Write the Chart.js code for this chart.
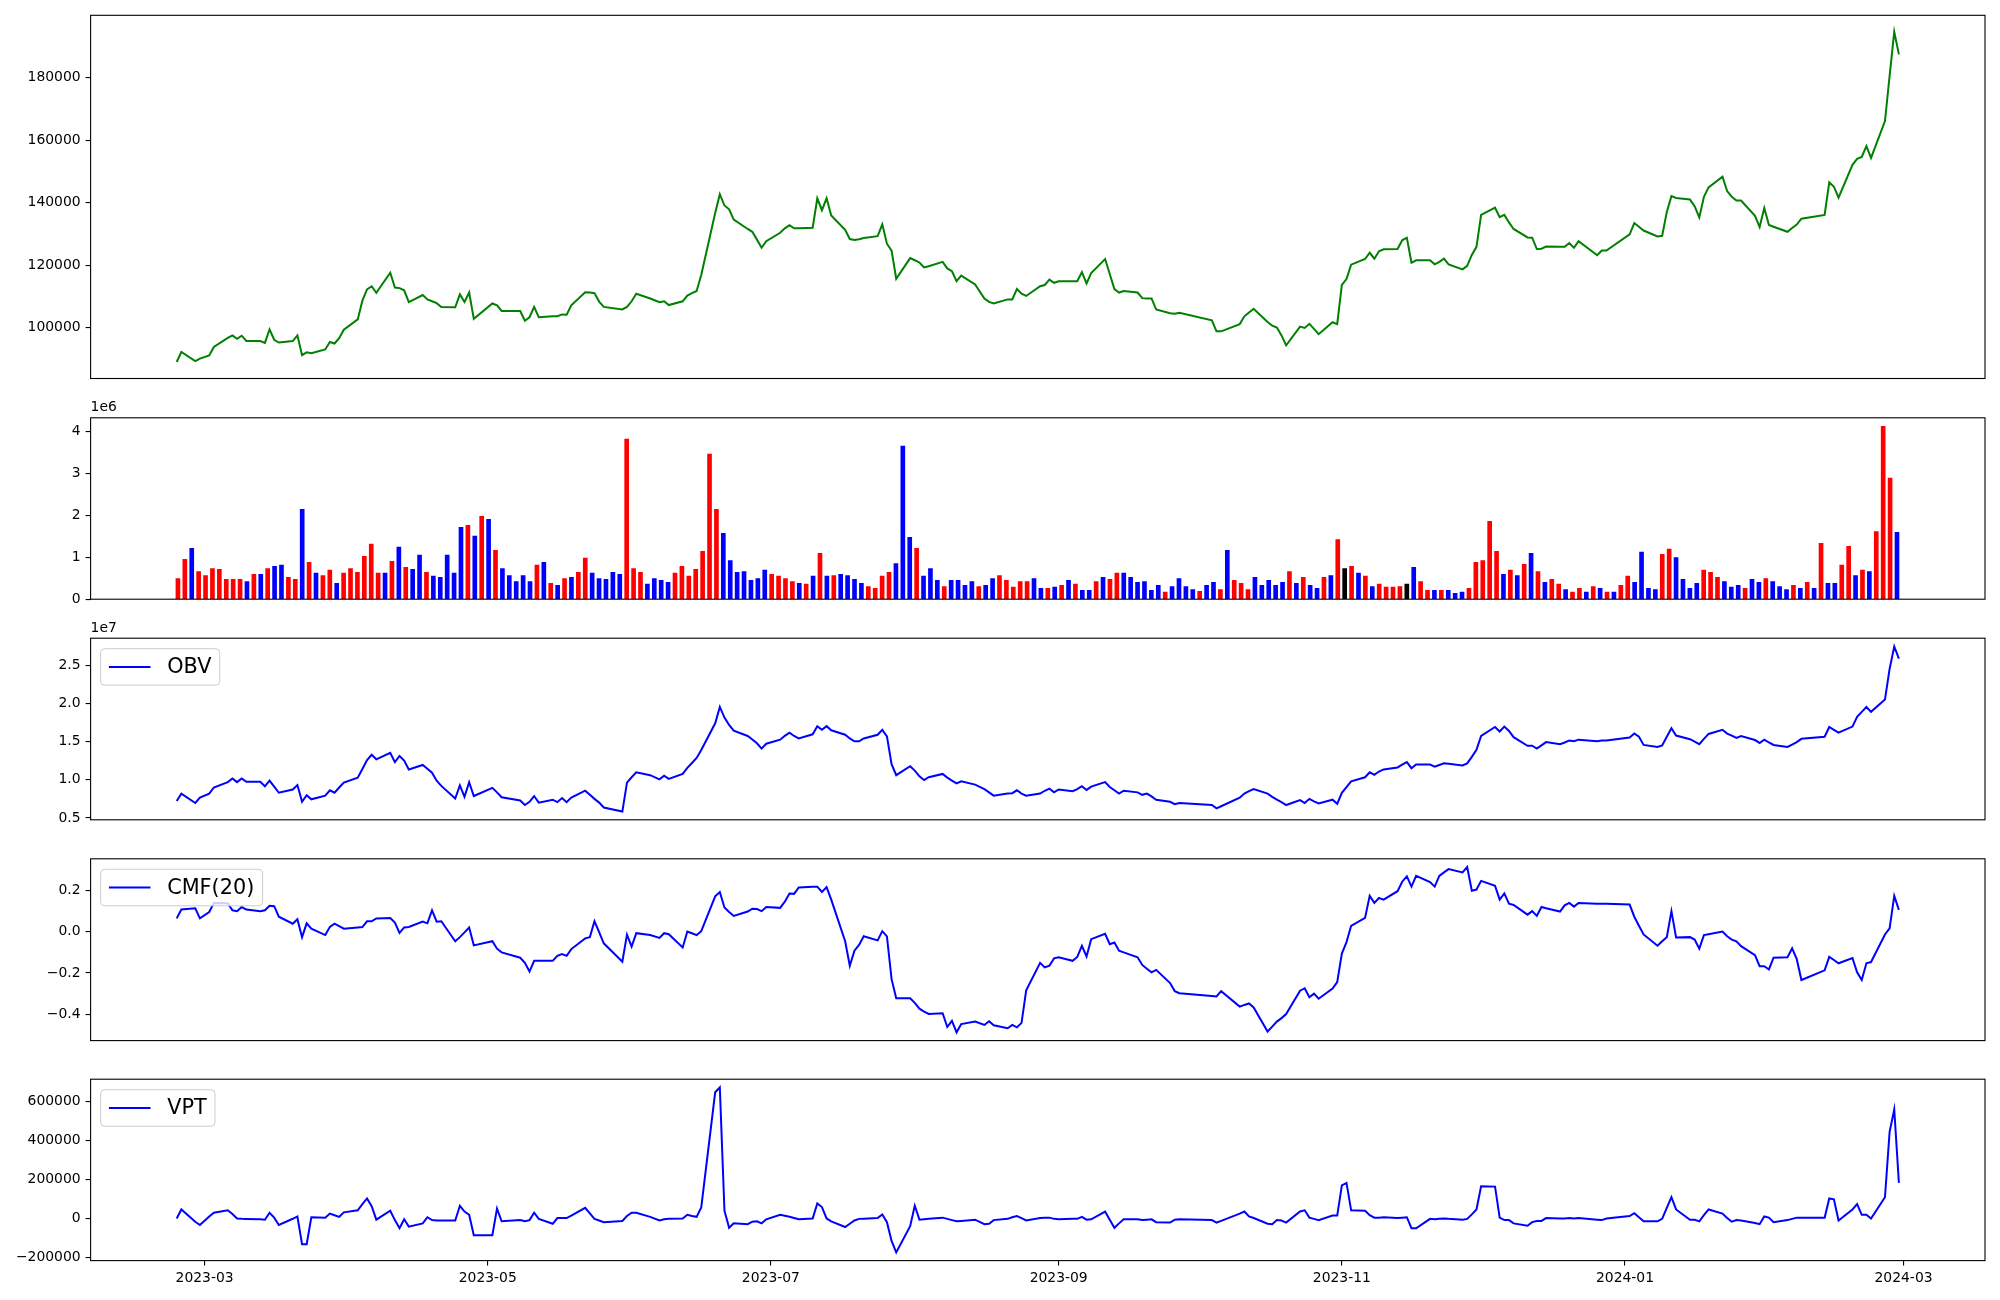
<!DOCTYPE html>
<html lang="en">
<head>
<meta charset="UTF-8">
<title>Price / Volume / OBV / CMF / VPT</title>
<script src="https://cdn.jsdelivr.net/npm/chart.js"></script>
<style>
  html, body { margin: 0; padding: 0; background: #fff; }
  #wrap { position: relative; width: 2000px; height: 1300px; overflow: hidden; }
  #wrap canvas { position: absolute; left: 0; }
</style>
</head>
<body>
<div id="wrap"></div>
<script>
// ---- calendar: KRX trading days, 2023-02-23 .. 2024-02-29 ----
const firstDay = '2023-02-23';
const lastDay = '2024-02-29';
const holidays = ['2023-03-01', '2023-05-01', '2023-05-05', '2023-05-29', '2023-06-06',
  '2023-08-15', '2023-09-28', '2023-09-29', '2023-10-02', '2023-10-03', '2023-10-09',
  '2023-12-25', '2023-12-29', '2024-01-01', '2024-02-09', '2024-02-12'];

const xTickLabels = ['2023-03', '2023-05', '2023-07', '2023-09', '2023-11', '2024-01', '2024-03'];

// one row per trading week
const price = [
  89100, 92300, 89400, 90200, 91200, 93900,
  96800, 97600, 96500, 97500, 95800,
  95800, 95200, 99500, 96200, 95300,
  95800, 97600, 91300, 92200, 91900,
  93100, 95500, 95000, 96700, 99400,
  102700, 108700, 112300, 113300, 111200,
  117600, 112900, 112700, 112000, 108200,
  110500, 109100, 108500, 107900, 106700,
  106600, 110700, 108300, 111300, 102900,
  107800, 107200, 105400,
  105400, 102300, 103400, 106700, 103400,
  103700, 103700, 104300, 104200, 107200,
  111400, 111300, 111100, 108400, 106700,
  105900, 106700, 108500, 110900,
  109400, 108200, 108500, 107300,
  108500, 110300, 111100, 111800, 116900,
  136700, 142700, 139100, 137900, 134600,
  131600, 130700, 128200, 125600, 127700,
  130400, 131800, 132800, 131800, 131800,
  132000, 141400, 137600, 141400, 135900,
  131300, 128400, 128100, 128300, 128700,
  129300, 133100, 126900, 124700, 115700,
  122300, 121600, 120900, 119300, 119700,
  121100, 119000, 118100, 114900, 116700,
  113900, 109400, 108300, 107800,
  109100, 109100, 112400, 110900, 110200,
  113300, 113700, 115400, 114400, 114900,
  114900, 114900, 117800, 114200, 117500,
  122000, 117200, 112400, 111300, 111800,
  111300, 109500, 109400, 109400, 105900,
  104700, 104500, 104800,
  102400, 98900, 98900,
  101200, 103700, 104900, 106100,
  101900, 100700, 100100, 97600, 94400,
  100400, 100000, 101300, 99700, 98000,
  101800, 101200, 113700, 115600, 120200,
  122000, 124000, 122100, 124500, 125100,
  125200, 128000, 128800, 120800, 121600,
  121600, 120300, 121100, 122100, 120300,
  118700, 119800, 123300, 125900, 136100,
  138400, 135400, 136100, 133700, 131600,
  128900, 128800, 125200, 125300, 126000,
  125900, 125900, 127100, 125600, 127700,
  123200, 124700, 124700,
  129900, 133500, 132300, 131100,
  129200, 129400, 137000, 142100, 141500,
  141000, 138900, 135300, 141900, 144900,
  148300, 143700, 141900, 140700, 140700,
  135800, 132200, 138300, 132900, 132300,
  130700, 131900, 133000, 134900,
  136100, 146500, 145100, 141600,
  152100, 154000, 154600, 158100, 154300,
  166100, 180500, 194600, 187400
];

const volume = [
  0.49e6, 0.95e6, 1.21e6, 0.66e6, 0.56e6, 0.73e6,
  0.71e6, 0.47e6, 0.47e6, 0.47e6, 0.42e6,
  0.59e6, 0.59e6, 0.73e6, 0.78e6, 0.81e6,
  0.52e6, 0.47e6, 2.14e6, 0.88e6, 0.62e6,
  0.56e6, 0.69e6, 0.38e6, 0.62e6, 0.73e6,
  0.64e6, 1.02e6, 1.31e6, 0.62e6, 0.62e6,
  0.90e6, 1.24e6, 0.76e6, 0.71e6, 1.05e6,
  0.64e6, 0.55e6, 0.52e6, 1.05e6, 0.62e6,
  1.71e6, 1.76e6, 1.50e6, 1.97e6, 1.90e6,
  1.16e6, 0.73e6, 0.56e6,
  0.42e6, 0.56e6, 0.42e6, 0.81e6, 0.88e6,
  0.38e6, 0.33e6, 0.49e6, 0.52e6, 0.64e6,
  0.98e6, 0.62e6, 0.49e6, 0.47e6, 0.64e6,
  0.59e6, 3.81e6, 0.73e6, 0.64e6,
  0.36e6, 0.49e6, 0.45e6, 0.40e6,
  0.62e6, 0.78e6, 0.55e6, 0.71e6, 1.14e6,
  3.45e6, 2.14e6, 1.57e6, 0.92e6, 0.64e6,
  0.66e6, 0.45e6, 0.49e6, 0.69e6, 0.59e6,
  0.55e6, 0.49e6, 0.42e6, 0.38e6, 0.36e6,
  0.55e6, 1.09e6, 0.55e6, 0.56e6, 0.59e6,
  0.56e6, 0.47e6, 0.38e6, 0.30e6, 0.26e6,
  0.55e6, 0.64e6, 0.85e6, 3.64e6, 1.47e6,
  1.21e6, 0.55e6, 0.73e6, 0.45e6, 0.30e6,
  0.45e6, 0.45e6, 0.33e6, 0.42e6, 0.30e6,
  0.33e6, 0.49e6, 0.56e6, 0.45e6,
  0.29e6, 0.42e6, 0.42e6, 0.49e6, 0.26e6,
  0.26e6, 0.29e6, 0.33e6, 0.45e6, 0.36e6,
  0.21e6, 0.21e6, 0.42e6, 0.52e6, 0.47e6,
  0.62e6, 0.62e6, 0.52e6, 0.40e6, 0.42e6,
  0.21e6, 0.33e6, 0.17e6, 0.30e6, 0.49e6,
  0.30e6, 0.23e6, 0.19e6,
  0.33e6, 0.40e6, 0.23e6,
  1.16e6, 0.45e6, 0.38e6, 0.23e6,
  0.52e6, 0.33e6, 0.45e6, 0.33e6, 0.40e6,
  0.66e6, 0.38e6, 0.52e6, 0.33e6, 0.26e6,
  0.52e6, 0.56e6, 1.42e6, 0.73e6, 0.78e6,
  0.62e6, 0.55e6, 0.30e6, 0.36e6, 0.29e6,
  0.29e6, 0.30e6, 0.36e6, 0.76e6, 0.42e6,
  0.21e6, 0.21e6, 0.21e6, 0.21e6, 0.14e6,
  0.17e6, 0.26e6, 0.88e6, 0.92e6, 1.85e6,
  1.14e6, 0.59e6, 0.69e6, 0.56e6, 0.83e6,
  1.09e6, 0.66e6, 0.40e6, 0.47e6, 0.36e6,
  0.23e6, 0.17e6, 0.26e6, 0.17e6, 0.30e6,
  0.26e6, 0.17e6, 0.17e6,
  0.33e6, 0.55e6, 0.40e6, 1.12e6,
  0.26e6, 0.23e6, 1.07e6, 1.19e6, 0.99e6,
  0.47e6, 0.26e6, 0.38e6, 0.69e6, 0.64e6,
  0.52e6, 0.42e6, 0.29e6, 0.33e6, 0.26e6,
  0.47e6, 0.40e6, 0.49e6, 0.42e6, 0.30e6,
  0.23e6, 0.33e6, 0.26e6, 0.40e6,
  0.26e6, 1.33e6, 0.38e6, 0.38e6,
  0.81e6, 1.26e6, 0.56e6, 0.69e6, 0.66e6,
  1.61e6, 4.11e6, 2.88e6, 1.59e6
];

// 1 = up (red), -1 = down (blue), 0 = unchanged (black)
const volDir = [
  1, 1, -1, 1, 1, 1,
  1, 1, 1, 1, -1,
  1, -1, 1, -1, -1,
  1, 1, -1, 1, -1,
  1, 1, -1, 1, 1,
  1, 1, 1, 1, -1,
  1, -1, 1, -1, -1,
  1, -1, -1, -1, -1,
  -1, 1, -1, 1, -1,
  1, -1, -1,
  -1, -1, -1, 1, -1,
  1, -1, 1, -1, 1,
  1, -1, -1, -1, -1,
  -1, 1, 1, 1,
  -1, -1, -1, -1,
  1, 1, 1, 1, 1,
  1, 1, -1, -1, -1,
  -1, -1, -1, -1, 1,
  1, 1, 1, -1, 1,
  -1, 1, -1, 1, -1,
  -1, -1, -1, 1, 1,
  1, 1, -1, -1, -1,
  1, -1, -1, -1, 1,
  -1, -1, -1, -1, 1,
  -1, -1, 1, 1,
  1, 1, 1, -1, -1,
  1, -1, 1, -1, 1,
  -1, -1, 1, -1, 1,
  1, -1, -1, -1, -1,
  -1, -1, 1, -1, -1,
  -1, -1, 1,
  -1, -1, 1,
  -1, 1, 1, 1,
  -1, -1, -1, -1, -1,
  1, -1, 1, -1, -1,
  1, -1, 1, 0, 1,
  -1, 1, -1, 1, 1,
  1, 1, 0, -1, 1,
  1, -1, 1, -1, -1,
  -1, 1, 1, 1, 1,
  1, -1, 1, -1, 1,
  -1, 1, -1, 1, 1,
  -1, 1, 1, -1, 1,
  -1, 1, -1,
  1, 1, -1, -1,
  -1, -1, 1, 1, -1,
  -1, -1, -1, 1, 1,
  1, -1, -1, -1, 1,
  -1, -1, 1, -1, -1,
  -1, 1, -1, 1,
  -1, 1, -1, -1,
  1, 1, -1, 1, -1,
  1, 1, 1, -1
];

const obv = [
  7.23e6, 8.19e6, 6.96e6, 7.66e6, 8.19e6, 8.99e6,
  9.69e6, 10.17e6, 9.69e6, 10.17e6, 9.74e6,
  9.74e6, 9.15e6, 9.90e6, 9.10e6, 8.30e6,
  8.73e6, 9.31e6, 7.12e6, 7.98e6, 7.44e6,
  7.92e6, 8.62e6, 8.30e6, 8.99e6, 9.63e6,
  10.28e6, 11.40e6, 12.58e6, 13.27e6, 12.68e6,
  13.54e6, 12.31e6, 13.11e6, 12.52e6, 11.35e6,
  11.94e6, 11.44e6, 10.92e6, 9.87e6, 9.20e6,
  7.55e6, 9.26e6, 7.76e6, 9.69e6, 7.87e6,
  8.94e6, 8.35e6, 7.71e6,
  7.28e6, 6.69e6, 7.12e6, 7.87e6, 7.01e6,
  7.39e6, 7.07e6, 7.61e6, 7.07e6, 7.66e6,
  8.57e6, 8.03e6, 7.50e6, 7.01e6, 6.37e6,
  5.84e6, 9.63e6, 10.33e6, 10.97e6,
  10.60e6, 10.06e6, 10.54e6, 10.12e6,
  10.76e6, 11.56e6, 12.20e6, 12.85e6, 13.90e6,
  17.39e6, 19.53e6, 18.14e6, 17.18e6, 16.43e6,
  15.73e6, 15.28e6, 14.77e6, 14.08e6, 14.72e6,
  15.25e6, 15.75e6, 16.16e6, 15.73e6, 15.41e6,
  15.95e6, 17.02e6, 16.54e6, 17.02e6, 16.48e6,
  15.89e6, 15.41e6, 15.04e6, 15.04e6, 15.41e6,
  15.89e6, 16.54e6, 15.68e6, 12.04e6, 10.60e6,
  11.77e6, 11.20e6, 10.44e6, 9.96e6, 10.33e6,
  10.76e6, 10.28e6, 9.90e6, 9.53e6, 9.80e6,
  9.37e6, 8.78e6, 8.35e6, 7.92e6,
  8.19e6, 8.24e6, 8.62e6, 8.19e6, 7.92e6,
  8.19e6, 8.56e6, 8.83e6, 8.35e6, 8.73e6,
  8.51e6, 8.78e6, 9.15e6, 8.67e6, 9.10e6,
  9.69e6, 9.05e6, 8.62e6, 8.19e6, 8.56e6,
  8.35e6, 8.03e6, 8.19e6, 7.82e6, 7.39e6,
  7.12e6, 6.80e6, 6.96e6,
  6.69e6, 6.26e6, 6.53e6,
  7.66e6, 8.19e6, 8.51e6, 8.78e6,
  8.19e6, 7.76e6, 7.39e6, 7.07e6, 6.69e6,
  7.34e6, 6.96e6, 7.50e6, 7.17e6, 6.91e6,
  7.39e6, 6.85e6, 8.30e6, 9.05e6, 9.80e6,
  10.33e6, 10.97e6, 10.65e6, 11.08e6, 11.35e6,
  11.61e6, 11.99e6, 12.31e6, 11.51e6, 11.99e6,
  11.99e6, 11.72e6, 11.93e6, 12.15e6, 12.10e6,
  11.88e6, 12.15e6, 13.00e6, 13.91e6, 15.73e6,
  16.91e6, 16.32e6, 16.96e6, 16.38e6, 15.57e6,
  14.45e6, 14.45e6, 14.08e6, 14.50e6, 14.93e6,
  14.66e6, 14.88e6, 15.15e6, 15.04e6, 15.25e6,
  15.04e6, 15.15e6, 15.15e6,
  15.52e6, 16.05e6, 15.63e6, 14.56e6,
  14.29e6, 14.50e6, 15.63e6, 16.75e6, 15.79e6,
  15.31e6, 14.98e6, 14.66e6, 15.36e6, 16.00e6,
  16.54e6, 16.05e6, 15.79e6, 15.47e6, 15.73e6,
  15.20e6, 14.82e6, 15.25e6, 14.88e6, 14.56e6,
  14.29e6, 14.61e6, 14.93e6, 15.36e6,
  15.63e6, 16.91e6, 16.54e6, 16.16e6,
  16.96e6, 18.25e6, 18.89e6, 19.53e6, 18.89e6,
  20.50e6, 24.51e6, 27.45e6, 25.85e6
];

const cmf = [
  0.065, 0.108, 0.114, 0.065, 0.096, 0.140,
  0.138, 0.104, 0.100, 0.120, 0.108,
  0.100, 0.104, 0.126, 0.124, 0.073,
  0.039, 0.061, -0.026, 0.041, 0.015,
  -0.016, 0.024, 0.039, 0.027, 0.015,
  0.021, 0.023, 0.051, 0.051, 0.065,
  0.067, 0.045, -0.005, 0.021, 0.023,
  0.049, 0.041, 0.104, 0.049, 0.051,
  -0.046, -0.026, -0.003, 0.021, -0.066,
  -0.046, -0.082, -0.100,
  -0.126, -0.151, -0.193, -0.141, -0.141,
  -0.141, -0.117, -0.108, -0.117, -0.084,
  -0.032, -0.026, 0.051, -0.002, -0.056,
  -0.145, -0.014, -0.072, -0.007,
  -0.016, -0.030, -0.007, -0.012,
  -0.076, 0.001, -0.007, -0.016, 0.003,
  0.172, 0.193, 0.118, 0.096, 0.077,
  0.098, 0.112, 0.110, 0.100, 0.120,
  0.116, 0.146, 0.186, 0.184, 0.215,
  0.219, 0.219, 0.193, 0.217, 0.156,
  -0.046, -0.165, -0.092, -0.064, -0.022,
  -0.042, 0.003, -0.022, -0.230, -0.323,
  -0.323, -0.345, -0.373, -0.387, -0.399,
  -0.395, -0.462, -0.432, -0.488, -0.448,
  -0.436, -0.452, -0.434, -0.454,
  -0.468, -0.452, -0.464, -0.442, -0.284,
  -0.151, -0.173, -0.165, -0.129, -0.124,
  -0.141, -0.122, -0.068, -0.120, -0.036,
  -0.010, -0.060, -0.052, -0.092, -0.100,
  -0.124, -0.161, -0.179, -0.197, -0.185,
  -0.249, -0.288, -0.298,
  -0.312, -0.314, -0.288,
  -0.363, -0.355, -0.348, -0.367,
  -0.484, -0.460, -0.436, -0.419, -0.399,
  -0.286, -0.274, -0.318, -0.300, -0.325,
  -0.276, -0.244, -0.106, -0.050, 0.029,
  0.067, 0.174, 0.140, 0.164, 0.156,
  0.197, 0.243, 0.269, 0.219, 0.271,
  0.241, 0.219, 0.271, 0.288, 0.304,
  0.288, 0.314, 0.199, 0.205, 0.247,
  0.223, 0.156, 0.186, 0.136, 0.130,
  0.083, 0.100, 0.077, 0.120, 0.114,
  0.098, 0.128, 0.140, 0.122, 0.140,
  0.136, 0.136, 0.136,
  0.132, 0.073, 0.029, -0.013,
  -0.068, -0.046, -0.026, 0.100, -0.028,
  -0.026, -0.038, -0.082, -0.016, -0.012,
  0.001, -0.022, -0.038, -0.046, -0.070,
  -0.113, -0.167, -0.167, -0.183, -0.126,
  -0.124, -0.080, -0.133, -0.234,
  -0.187, -0.122, -0.137, -0.153,
  -0.128, -0.197, -0.234, -0.153, -0.147,
  -0.013, 0.017, 0.174, 0.106
];

const vpt = [
  0, 46800, -16200, -32900, 11100, 30000,
  42600, 23700, 600, -1000, -2000,
  -4000, -5700, 30000, 4800, -32900,
  -1000, 11100, -131600, -131600, 6900,
  4800, 25800, 17400, 9000, 32100,
  42600, 74000, 103500, 63600, -5700,
  40500, -7800, -49700, -3600, -41500,
  -24600, 6900, -7800, -9900, -9900,
  -9900, 65700, 36300, 19500, -85400,
  -85400, 51000, -14100,
  -7800, -14100, -7800, 30000, -1500,
  -26700, 2700, 2700, 2700, 15300,
  55200, 26900, -1500, -9900, -18300,
  -12000, 13300, 30000, 30000,
  9000, -10000, -3600, -1500,
  600, 19500, 13000, 9000, 57300,
  649000, 674000, 40500, -47600, -24600,
  -28800, -16200, -14100, -24600, -3600,
  19500, 15000, 9000, 2700, -3600,
  600, 78300, 59400, 600, -14000,
  -43400, -26700, -9900, -1500, -600,
  2700, 21600, -18300, -114800, -173600,
  -39200, 65700, -5700, -3600, -1500,
  4800, -1500, -7800, -14100, -12000,
  -5700, -28800, -26700, -7800,
  -1500, 6900, 13200, 2700, -9900,
  2700, 4800, 4800, -1500, -3600,
  -1500, -1500, 9000, -5700, -3600,
  36300, -5700, -47600, -24600, -3600,
  -3600, -7800, -5700, -3600, -18300,
  -20400, -5700, -3600,
  -7800, -20400, -12000,
  25800, 36300, 11100, 2700,
  -26700, -28800, -7800, -9900, -20400,
  36300, 42600, 4800, -1500, -7800,
  15300, 15300, 170600, 183200, 42600,
  40500, 17400, 4800, 4800, 6900,
  2700, 4800, 6900, -49700, -49700,
  -1500, -3600, -1500, 600, -1500,
  -5700, -1500, 21600, 46800, 166400,
  164300, 4800, -7800, -7800, -24600,
  -37100, -18300, -12000, -12000, 2700,
  600, 600, 2700, 600, 2700,
  -5700, -7800, 600,
  13200, 27900, 6900, -14100,
  -14100, -1500, 55000, 109800, 46800,
  -5700, -5700, -14100, 17400, 46800,
  25800, 2700, -16200, -7800, -9900,
  -22500, -28800, 11100, 4800, -18300,
  -7800, -1500, 4800, 4800,
  4800, 103500, 99300, -9900,
  46800, 74100, 19500, 19500, 600,
  109800, 445600, 561000, 183200
];

const priceTicks = [100000, 120000, 140000, 160000, 180000];
const volTicks = [0, 1e6, 2e6, 3e6, 4e6];
const obvTicks = [0.5e7, 1.0e7, 1.5e7, 2.0e7, 2.5e7];
const cmfTicks = [-0.4, -0.2, 0.0, 0.2];
const vptTicks = [-200000, 0, 200000, 400000, 600000];

// ---- helpers ----
const MINUS = '\u2212';
const AX_LEFT = 90.6, AX_RIGHT = 1985;

function dayNum(iso) {
  const [y, m, d] = iso.split('-').map(Number);
  return Date.UTC(y, m - 1, d) / 864e5;
}

const days = [];
for (let t = dayNum(firstDay); t <= dayNum(lastDay); t++) {
  const dt = new Date(t * 864e5);
  const wd = dt.getUTCDay();
  if (wd === 0 || wd === 6) continue;
  if (holidays.includes(dt.toISOString().slice(0, 10))) continue;
  days.push(t);
}

function withMargin(vals) {
  const lo = Math.min(...vals), hi = Math.max(...vals), p = (hi - lo) * 0.05;
  return [lo - p, hi + p];
}

const [xMin, xMax] = withMargin(days);
const xTickVals = xTickLabels.map(s => dayNum(s + '-01'));

Chart.defaults.font.family = '"DejaVu Sans", sans-serif';
Chart.defaults.font.size = 13.9;
Chart.defaults.color = '#000';

// frame, offset text ("1e6") and matplotlib-style legend box
const decor = {
  id: 'decor',
  afterDatasetsDraw(chart, args, opts) {
    const { ctx, chartArea: a } = chart;
    ctx.save();
    ctx.strokeStyle = '#000';
    ctx.lineWidth = 1.1;
    ctx.strokeRect(a.left, a.top, a.right - a.left, a.bottom - a.top);
    if (opts.offset) {
      ctx.fillStyle = '#000';
      ctx.font = '13.9px "DejaVu Sans"';
      ctx.textAlign = 'left';
      ctx.textBaseline = 'bottom';
      ctx.fillText(opts.offset, a.left, a.top - 3);
    }
    if (opts.legend) {
      const fs = 20.8;
      ctx.font = fs + 'px "DejaVu Sans"';
      const tw = ctx.measureText(opts.legend).width;
      const x0 = a.left + 10, y0 = a.top + 10.5;
      const w = 0.4 * fs + 2 * fs + 0.8 * fs + tw + 0.4 * fs;
      const h = 36.5, r = 4;
      ctx.beginPath();
      ctx.moveTo(x0 + r, y0);
      ctx.lineTo(x0 + w - r, y0);
      ctx.arcTo(x0 + w, y0, x0 + w, y0 + r, r);
      ctx.lineTo(x0 + w, y0 + h - r);
      ctx.arcTo(x0 + w, y0 + h, x0 + w - r, y0 + h, r);
      ctx.lineTo(x0 + r, y0 + h);
      ctx.arcTo(x0, y0 + h, x0, y0 + h - r, r);
      ctx.lineTo(x0, y0 + r);
      ctx.arcTo(x0, y0, x0 + r, y0, r);
      ctx.closePath();
      ctx.fillStyle = 'rgba(255,255,255,0.8)';
      ctx.fill();
      ctx.strokeStyle = '#cccccc';
      ctx.lineWidth = 1;
      ctx.stroke();
      const cy = y0 + h / 2;
      ctx.beginPath();
      ctx.moveTo(x0 + 0.4 * fs, cy);
      ctx.lineTo(x0 + 2.4 * fs, cy);
      ctx.strokeStyle = opts.color;
      ctx.lineWidth = 2;
      ctx.stroke();
      ctx.fillStyle = '#000';
      ctx.textAlign = 'left';
      ctx.textBaseline = 'middle';
      ctx.fillText(opts.legend, x0 + 3.2 * fs, cy + 1);
    }
    ctx.restore();
  }
};
Chart.register(decor);

const wrap = document.getElementById('wrap');
function mkCanvas(top, bottom) {
  const c = document.createElement('canvas');
  c.width = 2000;
  c.height = bottom - top;
  c.style.top = top + 'px';
  wrap.appendChild(c);
  return c;
}

const tickGrid = { display: true, drawOnChartArea: false, drawTicks: true, tickLength: 5, color: '#000', lineWidth: 1.1 };

function yAxis(range, ticks, fmt) {
  return {
    min: range[0], max: range[1],
    afterBuildTicks: s => { s.ticks = ticks.map(v => ({ value: v })); },
    afterFit: s => { s.width = AX_LEFT; s.paddingTop = 0; s.paddingBottom = 0; },
    ticks: { callback: v => fmt(v), padding: 5 },
    grid: tickGrid,
    border: { display: false }
  };
}

function hiddenX(min, max) {
  return { type: 'linear', min, max, offset: false, display: false };
}

function baseOptions(padTop, padBottom, scales, decorOpts) {
  return {
    responsive: false,
    animation: false,
    events: [],
    layout: { padding: { top: padTop, bottom: padBottom, left: 0, right: 2000 - AX_RIGHT } },
    scales,
    plugins: { legend: { display: false }, tooltip: { enabled: false }, decor: decorOpts }
  };
}

function lineSet(values, color) {
  return {
    data: days.map((d, i) => ({ x: d, y: values[i] })),
    borderColor: color, borderWidth: 2, pointRadius: 0, tension: 0, fill: false
  };
}

const minusFmt = s => s.replace('-', MINUS);

// panel 1: price
new Chart(mkCanvas(0, 398), {
  type: 'line',
  data: { datasets: [lineSet(price, '#008000')] },
  options: baseOptions(15.3, 398 - 378.5, {
    x: hiddenX(xMin, xMax),
    y: yAxis(withMargin(price), priceTicks, v => String(v))
  }, {})
});

// panel 2: volume, bars evenly spaced across the same span
const n = volume.length;
new Chart(mkCanvas(398, 619), {
  type: 'bar',
  data: {
    datasets: [{
      data: volume.map((v, i) => ({ x: i, y: v })),
      backgroundColor: volDir.map(d => d > 0 ? '#ff0000' : (d < 0 ? '#0000ff' : '#000000')),
      barThickness: 4
    }]
  },
  options: baseOptions(417.8 - 398, 619 - 599.2, {
    x: hiddenX(-0.0508 * (n - 1), (n - 1) * 1.0512),
    y: yAxis([0, Math.max(...volume) * 1.05], volTicks, v => String(Math.round(v / 1e6)))
  }, { offset: '1e6' })
});

// panel 3: OBV
new Chart(mkCanvas(619, 839), {
  type: 'line',
  data: { datasets: [lineSet(obv, '#0000ff')] },
  options: baseOptions(638.2 - 619, 839 - 819.8, {
    x: hiddenX(xMin, xMax),
    y: yAxis(withMargin(obv), obvTicks, v => (v / 1e7).toFixed(1))
  }, { offset: '1e7', legend: 'OBV', color: '#0000ff' })
});

// panel 4: CMF(20)
new Chart(mkCanvas(839, 1060), {
  type: 'line',
  data: { datasets: [lineSet(cmf, '#0000ff')] },
  options: baseOptions(858.8 - 839, 1060 - 1040.6, {
    x: hiddenX(xMin, xMax),
    y: yAxis(withMargin(cmf), cmfTicks, v => minusFmt(v.toFixed(1)))
  }, { legend: 'CMF(20)', color: '#0000ff' })
});

// panel 5: VPT with date axis
new Chart(mkCanvas(1060, 1300), {
  type: 'line',
  data: { datasets: [lineSet(vpt, '#0000ff')] },
  options: baseOptions(1079.2 - 1060, 0, {
    x: {
      type: 'linear', min: xMin, max: xMax,
      afterBuildTicks: s => { s.ticks = xTickVals.map(v => ({ value: v })); },
      afterFit: s => { s.height = 1300 - 1260.6; s.paddingLeft = 0; s.paddingRight = 0; },
      ticks: { callback: (v, i) => xTickLabels[i], autoSkip: false, maxRotation: 0, padding: 4 },
      grid: tickGrid,
      border: { display: false }
    },
    y: yAxis(withMargin(vpt), vptTicks, v => minusFmt(String(v)))
  }, { legend: 'VPT', color: '#0000ff' })
});
</script>
</body>
</html>
